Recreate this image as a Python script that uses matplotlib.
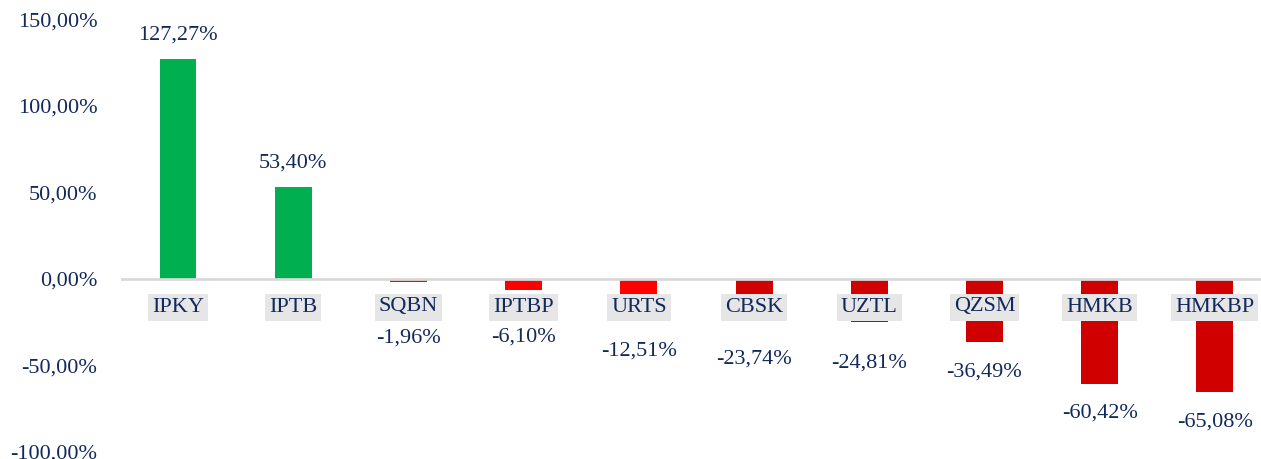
import matplotlib
matplotlib.use("Agg")
import matplotlib.pyplot as plt

tickers = ["IPKY", "IPTB", "SQBN", "IPTBP", "URTS", "CBSK", "UZTL", "QZSM", "HMKB", "HMKBP"]
changes = [127.27, 53.40, -1.96, -6.10, -12.51, -23.74, -24.81, -36.49, -60.42, -65.08]
y_ticks = [-100, -50, 0, 50, 100, 150]

# label offsets (pixels) from bar end, to mimic the original manual layout
label_offsets_px = [24, 24, 56, 47, 50, 39, 41, 30, 30, 30]

navy = "#12295C"
green = "#00B050"
red_light = "#FF0000"
red_dark = "#D00000"

def fmt(v):
    return f"{v:.2f}".replace(".", ",") + "%"

plt.rcParams["font.family"] = ["Liberation Serif", "DejaVu Serif"]

fig = plt.figure(figsize=(12.61, 4.59), dpi=100)
ax = fig.add_axes([121 / 1261, 7 / 459, 1 - 121 / 1261, (452 - 19.5) / 459])

x = list(range(len(tickers)))
colors = []
for v in changes:
    if v >= 0:
        colors.append(green)
    elif v > -20:
        colors.append(red_light)
    else:
        colors.append(red_dark)

ax.bar(x, changes, width=0.32, color=colors, zorder=2)
ax.axhline(0, color="#D9D9D9", lw=2, zorder=3)

ax.set_xlim(-0.495, 9.40)
ax.set_ylim(-100, 150)
ax.set_yticks(y_ticks)
ax.set_yticklabels([f"{t:.2f}".replace(".", ",") + "%" for t in y_ticks],
                   fontsize=16, color=navy)
ax.tick_params(axis="y", length=0, pad=17)
ax.set_xticks([])
for s in ax.spines.values():
    s.set_visible(False)

# category labels just below the zero line, with grey background
for xi, name in zip(x, tickers):
    ax.annotate(name, (xi, 0), xytext=(0, -28 * 0.72), textcoords="offset points",
                ha="center", va="center", fontsize=16, color=navy, zorder=5,
                bbox=dict(boxstyle="square,pad=0.18", fc="#E6E6E6", ec="none"))

# value labels
for xi, v, off in zip(x, changes, label_offsets_px):
    dy = off * 0.72 if v >= 0 else -off * 0.72
    ax.annotate(fmt(v), (xi, v), xytext=(0, dy), textcoords="offset points",
                ha="center", va="center", fontsize=16, color=navy, zorder=5)

fig.savefig("out.png", dpi=100)
